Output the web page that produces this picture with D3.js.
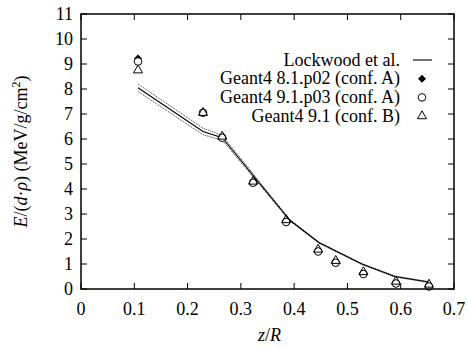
<!DOCTYPE html>
<html>
<head>
<meta charset="utf-8">
<script src="https://cdn.jsdelivr.net/npm/d3@7"></script>
<style>
  body { margin: 0; background: #fff; }
  svg text, svg tspan { font-family: 'Liberation Serif', Times, serif !important; }
</style>
</head>
<body>
<div id="wrapper"></div>
<script>
// measured points
var zPos = [0.107, 0.229, 0.265, 0.323, 0.385, 0.445, 0.478, 0.530, 0.591, 0.653];
var g4_81 = [9.22, 7.05, 6.05, 4.25, 2.68, 1.5, 1.05, 0.6, 0.22, 0.1];
var g4_91p03 = [9.1, 7.05, 6.05, 4.25, 2.68, 1.5, 1.05, 0.6, 0.22, 0.1];
var g4_91b = [8.75, 7.05, 6.1, 4.3, 2.76, 1.58, 1.13, 0.68, 0.3, 0.18];

// Lockwood reference curve and its error
var lockZ = [0.107, 0.229, 0.265, 0.392, 0.447, 0.527, 0.589, 0.652];
var lockE = [8.05, 6.3, 6.05, 2.75, 1.85, 1.0, 0.5, 0.28];
var lockErr = [0.15, 0.13, 0.1, 0.03, 0.02, 0.02, 0.02, 0.02];

var xTicks = [0, 0.1, 0.2, 0.3, 0.4, 0.5, 0.6, 0.7];
var yTicks = d3.range(0, 12);

var W = 467, H = 349;
var m = {left: 81, right: 454, top: 14, bottom: 289};
var fs = 18;

var svg = d3.select('#wrapper').append('svg')
            .attr('width', W).attr('height', H);

var x = d3.scaleLinear().domain([0, 0.7]).range([m.left, m.right]);
var y = d3.scaleLinear().domain([0, 11]).range([m.bottom, m.top]);

function txt(sel) {
    return sel.attr('font-family', 'Liberation Serif')
              .style('font-family', 'Liberation Serif')
              .style('font-size', fs + 'px');
}

var tickLen = 6;

// ticks (inward, mirrored)
var tg = svg.append('g').attr('stroke', '#000').attr('stroke-width', 1);
xTicks.forEach(function(t) {
    tg.append('line').attr('x1', x(t)).attr('x2', x(t)).attr('y1', m.bottom).attr('y2', m.bottom - tickLen);
    tg.append('line').attr('x1', x(t)).attr('x2', x(t)).attr('y1', m.top).attr('y2', m.top + tickLen);
});
yTicks.forEach(function(t) {
    tg.append('line').attr('y1', y(t)).attr('y2', y(t)).attr('x1', m.left).attr('x2', m.left + tickLen);
    tg.append('line').attr('y1', y(t)).attr('y2', y(t)).attr('x1', m.right).attr('x2', m.right - tickLen);
});

// tick labels
txt(svg.selectAll('.xl').data(xTicks).enter().append('text'))
   .attr('x', function(d) { return x(d); })
   .attr('y', 315)
   .attr('text-anchor', 'middle')
   .text(function(d) { return d === 0 ? '0' : d3.format('.1f')(d); });

txt(svg.selectAll('.yl').data(yTicks).enter().append('text'))
   .attr('x', 73)
   .attr('y', function(d) { return y(d) + 6; })
   .attr('text-anchor', 'end')
   .text(function(d) { return d; });

// axis titles
var xt = txt(svg.append('text')).attr('x', x(0.35) + 2).attr('y', 341)
            .attr('text-anchor', 'middle');
xt.append('tspan').style('font-style', 'italic').text('z');
xt.append('tspan').text('/');
xt.append('tspan').style('font-style', 'italic').text('R');

var yt = txt(svg.append('text'))
            .attr('transform', 'translate(27,' + y(5.5) + ') rotate(-90)')
            .attr('text-anchor', 'middle');
yt.append('tspan').style('font-style', 'italic').text('E');
yt.append('tspan').text('/(');
yt.append('tspan').style('font-style', 'italic').text('d');
yt.append('tspan').text('\u00b7');
yt.append('tspan').style('font-style', 'italic').text('\u03c1');
yt.append('tspan').text(') (MeV/g/cm');
yt.append('tspan').attr('dy', -7).style('font-size', '12px').text('2');
yt.append('tspan').attr('dy', 7).text(')');

// Lockwood curve with dotted error band
var lock = lockZ.map(function(z, i) { return {z: z, e: lockE[i], err: lockErr[i]}; });
var line = function(off) {
    return d3.line().x(function(d) { return x(d.z); })
                    .y(function(d) { return y(d.e + off * d.err); });
};
[1, -1].forEach(function(s) {
    svg.append('path').datum(lock)
       .attr('d', line(s))
       .attr('fill', 'none').attr('stroke', '#000')
       .attr('stroke-width', 0.8).attr('stroke-dasharray', '1,1');
});
svg.append('path').datum(lock)
   .attr('d', line(0))
   .attr('fill', 'none').attr('stroke', '#000').attr('stroke-width', 1.1);

// markers
var diamond = 'M0,-4L4,0L0,4L-4,0Z';
var triangle = d3.symbol().type(d3.symbolTriangle).size(36);

svg.selectAll('.dia').data(g4_81).enter().append('path')
   .attr('d', diamond)
   .attr('transform', function(d, i) { return 'translate(' + x(zPos[i]) + ',' + y(d) + ')'; })
   .attr('fill', '#000');

svg.selectAll('.cir').data(g4_91p03).enter().append('circle')
   .attr('cx', function(d, i) { return x(zPos[i]); })
   .attr('cy', function(d) { return y(d); })
   .attr('r', 3.8)
   .attr('fill', '#fff').attr('stroke', '#000').attr('stroke-width', 1);

svg.selectAll('.tri').data(g4_91b).enter().append('path')
   .attr('d', triangle)
   .attr('transform', function(d, i) { return 'translate(' + x(zPos[i]) + ',' + y(d) + ')'; })
   .attr('fill', 'none').attr('stroke', '#000').attr('stroke-width', 1);

// frame
svg.append('rect').attr('x', m.left).attr('y', m.top)
   .attr('width', m.right - m.left).attr('height', m.bottom - m.top)
   .attr('fill', 'none').attr('stroke', '#000').attr('stroke-width', 1.5);

// legend
var legend = ['Lockwood et al.', 'Geant4 8.1.p02 (conf. A)', 'Geant4 9.1.p03 (conf. A)', 'Geant4 9.1 (conf. B)'];
var lg = svg.append('g');
legend.forEach(function(name, i) {
    var ly = 60 + i * 18.7;
    txt(lg.append('text')).attr('x', 400).attr('y', ly + 5.5)
      .attr('text-anchor', 'end')
      .text(name);
    if (i === 0) {
        lg.append('line').attr('x1', 413).attr('x2', 432).attr('y1', ly).attr('y2', ly)
          .attr('stroke', '#000').attr('stroke-width', 1.1);
    } else if (i === 1) {
        lg.append('path').attr('d', diamond).attr('transform', 'translate(422,' + ly + ')').attr('fill', '#000');
    } else if (i === 2) {
        lg.append('circle').attr('cx', 422).attr('cy', ly).attr('r', 3.8)
          .attr('fill', 'none').attr('stroke', '#000');
    } else {
        lg.append('path').attr('d', triangle).attr('transform', 'translate(422,' + ly + ')')
          .attr('fill', 'none').attr('stroke', '#000');
    }
});
</script>
</body>
</html>
